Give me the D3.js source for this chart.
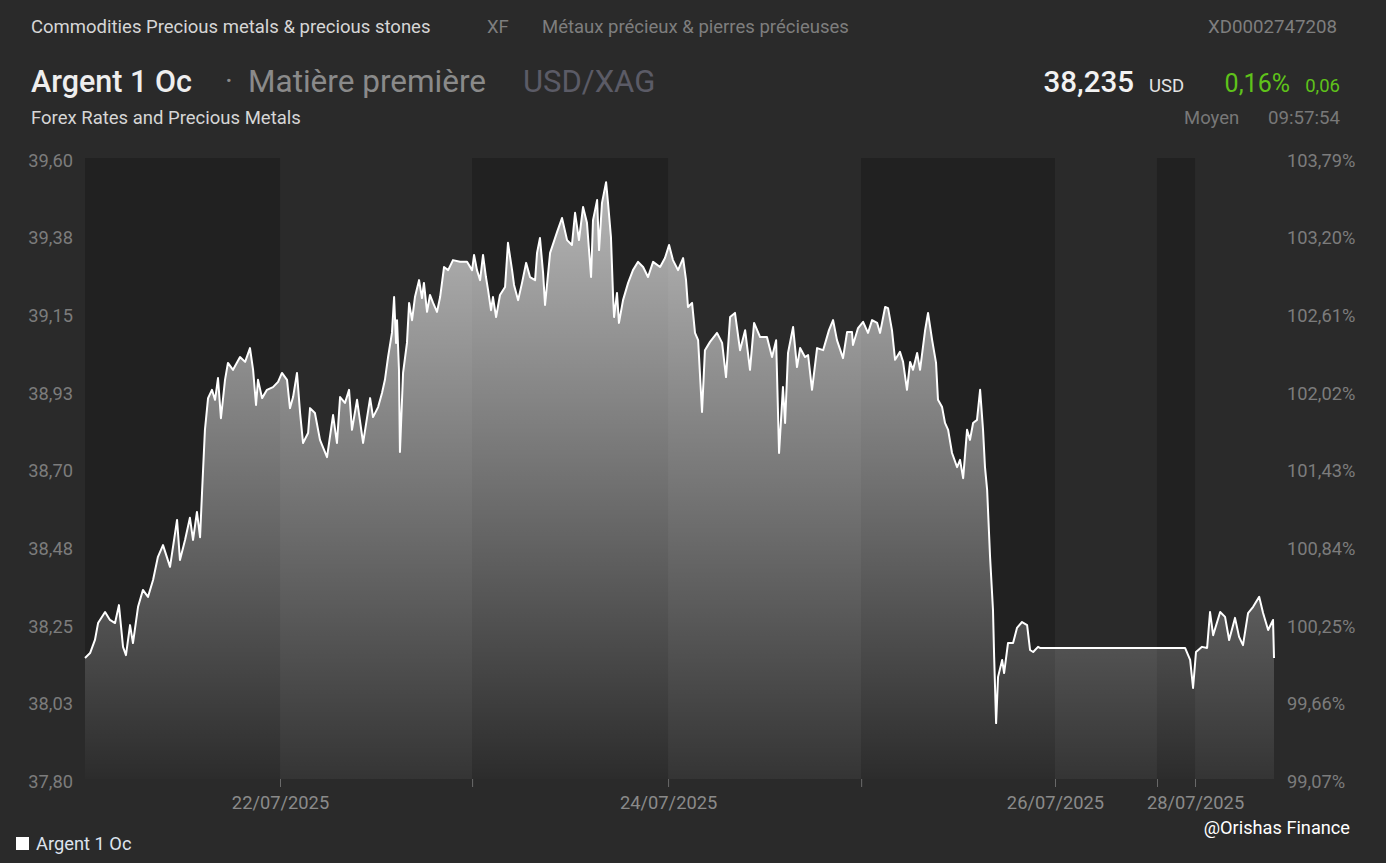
<!DOCTYPE html>
<html>
<head>
<meta charset="utf-8">
<script src="https://cdn.jsdelivr.net/npm/d3@7"></script>
<style>
  html, body { margin: 0; padding: 0; background: #2a2a2a; }
  svg { display: block; }
  text { font-family: Roboto, "Noto Sans", sans-serif; }
</style>
</head>
<body>
<svg id="chart" width="1386" height="863"></svg>
<script>
// ---------- DATA ----------
// time in trading-day units from 21/07/2025 open
const times = [
  0.000,0.026,0.051,0.067,0.103,0.128,0.154,0.174,0.195,0.210,0.231,0.246,0.272,0.297,0.323,0.349,0.374,0.400,0.436,0.472,
  0.487,0.513,0.538,0.554,0.574,0.590,0.600,0.615,0.631,0.651,0.667,0.682,0.697,0.718,0.733,0.759,0.795,0.821,0.846,0.862,
  0.877,0.887,0.908,0.933,0.964,0.990,1.010,1.036,1.051,1.067,1.087,1.103,1.118,1.144,1.154,1.179,1.205,1.241,
  1.272,1.292,1.308,1.333,1.354,1.369,1.395,1.426,1.462,1.477,1.503,1.523,1.538,1.554,1.574,1.585,1.595,1.600,1.610,1.615,
  1.631,1.651,1.662,1.677,1.692,1.713,1.728,1.738,1.754,1.769,1.785,1.805,1.821,1.841,1.862,1.887,1.923,1.959,1.985,1.995,
  2.010,2.026,2.041,2.056,2.067,2.082,2.092,2.108,2.128,2.154,2.169,2.190,2.200,2.221,2.241,2.262,2.282,2.308,2.318,2.333,
  2.349,2.359,2.385,2.421,2.446,2.472,2.497,2.513,2.533,
  2.554,2.574,2.595,2.605,2.626,2.636,2.651,2.672,2.682,2.697,2.708,2.713,2.728,2.738,2.759,2.785,2.810,2.836,2.862,2.887,
  2.913,2.949,2.974,2.995,3.015,3.041,3.067,3.082,3.092,3.113,3.128,3.144,3.164,3.179,3.205,3.241,3.267,3.287,3.308,3.333,
  3.359,3.385,3.410,3.431,3.462,3.497,3.523,3.544,3.559,3.579,3.590,3.605,3.631,3.651,3.667,3.692,3.708,3.728,3.754,3.785,3.815,
  3.836,3.856,3.887,3.908,3.933,3.938,3.964,3.990,4.015,4.036,4.062,4.077,4.103,4.118,4.138,4.154,4.179,4.195,4.215,4.231,
  4.246,4.267,4.282,4.308,4.323,4.344,4.364,4.374,4.395,4.410,4.426,4.446,4.472,4.487,4.503,4.523,4.538,4.554,4.574,4.590,
  4.605,4.615,4.626,4.641,4.656,4.662,4.672,4.682,4.703,4.713,4.733,4.759,4.779,
  4.805,4.831,4.846,4.862,4.887,4.897,5.641,5.667,5.682,5.697,5.728,5.754,5.769,5.785,5.821,5.846,5.867,5.897,5.918,5.938,
  5.964,5.990,6.021,6.041,6.067,6.092,6.097
];
const prices = [
  38.151,38.165,38.203,38.252,38.284,38.261,38.252,38.304,38.183,38.159,38.246,38.194,38.299,38.348,38.328,38.377,38.444,38.478,38.415,38.551,
  38.435,38.493,38.557,38.493,38.574,38.501,38.629,38.812,38.904,38.928,38.899,38.962,38.846,38.957,39.006,38.986,39.023,39.009,39.049,38.986,
  38.884,38.957,38.904,38.928,38.936,38.951,38.977,38.957,38.875,38.907,38.977,38.861,38.774,38.803,38.875,38.861,38.783,38.733,
  38.855,38.774,38.907,38.890,38.928,38.812,38.899,38.774,38.904,38.849,38.878,38.919,38.957,39.023,39.093,39.197,39.064,39.130,38.986,38.748,
  38.977,39.064,39.180,39.130,39.197,39.246,39.194,39.238,39.154,39.203,39.180,39.154,39.197,39.284,39.275,39.304,39.299,39.299,39.275,39.319,
  39.275,39.246,39.319,39.255,39.217,39.159,39.197,39.139,39.203,39.226,39.354,39.275,39.232,39.188,39.238,39.296,39.255,39.246,39.325,39.368,
  39.267,39.174,39.325,39.386,39.426,39.362,39.348,39.441,39.362,
  39.458,39.412,39.255,39.420,39.478,39.333,39.470,39.530,39.470,39.371,39.197,39.139,39.209,39.122,39.188,39.238,39.275,39.299,39.284,39.255,
  39.299,39.284,39.310,39.348,39.304,39.275,39.310,39.246,39.168,39.180,39.093,39.072,38.864,39.043,39.067,39.093,39.064,38.965,39.139,39.151,
  39.043,39.101,38.986,39.122,39.081,39.081,39.023,39.072,38.745,38.936,38.832,39.035,39.110,38.994,39.049,39.023,39.029,38.928,39.049,39.043,39.101,
  39.130,39.072,39.020,39.096,39.096,39.058,39.107,39.125,39.093,39.130,39.122,39.093,39.168,39.165,39.101,39.015,39.038,39.009,38.928,39.009,
  38.986,39.035,38.986,39.101,39.151,39.072,39.006,38.899,38.878,38.832,38.812,38.745,38.704,38.725,38.672,38.812,38.783,38.832,38.841,38.928,
  38.812,38.704,38.638,38.444,38.290,38.154,37.962,38.096,38.145,38.107,38.194,38.194,38.238,
  38.255,38.246,38.174,38.168,38.183,38.180,38.180,38.145,38.064,38.168,38.183,38.180,38.284,38.217,38.284,38.270,38.203,38.267,38.212,38.188,
  38.281,38.299,38.328,38.281,38.232,38.261,38.151
];
// session boundaries (trading-day units) and shaded sessions
const darkSessions = [[0, 1.0], [1.985, 2.99], [3.98, 4.974], [5.497, 5.692]];
const xTickValues = [1.0, 1.985, 2.99, 3.98, 4.974, 5.497, 5.692];
const xTickLabels = ["22/07/2025", "", "24/07/2025", "", "26/07/2025", "", "28/07/2025"];
const yTickValues = [37.8, 38.025, 38.25, 38.475, 38.7, 38.925, 39.15, 39.375, 39.6];
const yTickLabels = ["37,80", "38,03", "38,25", "38,48", "38,70", "38,93", "39,15", "39,38", "39,60"];
const pctTickLabels = ["99,07%", "99,66%", "100,25%", "100,84%", "101,43%", "102,02%", "102,61%", "103,20%", "103,79%"];
const seriesName = "Argent 1 Oc";

// ---------- LAYOUT ----------
const svg = d3.select("#chart");
const W = 1386, H = 863;
const plot = { left: 85, right: 1274, top: 158, bottom: 779 };
const AX = 18.3;

svg.append("rect").attr("width", W).attr("height", H).attr("fill", "#2a2a2a");

const x = d3.scaleLinear().domain([0, 6.097]).range([plot.left, plot.right]);
const y = d3.scaleLinear().domain([37.8, 39.6]).range([plot.bottom, plot.top]);

// session bands
svg.append("g").selectAll("rect").data(darkSessions).join("rect")
  .attr("x", d => x(d[0])).attr("width", d => x(d[1]) - x(d[0]))
  .attr("y", plot.top).attr("height", plot.bottom - plot.top)
  .attr("fill", "#212121");

// gradient
const defs = svg.append("defs");
const grad = defs.append("linearGradient").attr("id", "areaGrad")
  .attr("gradientUnits", "userSpaceOnUse")
  .attr("x1", 0).attr("x2", 0).attr("y1", plot.top).attr("y2", plot.bottom);
grad.append("stop").attr("offset", "0%").attr("stop-color", "#ffffff").attr("stop-opacity", 0.70);
grad.append("stop").attr("offset", "100%").attr("stop-color", "#ffffff").attr("stop-opacity", 0.05);

const data = times.map((t, i) => ({ t, v: prices[i] }));

const area = d3.area().x(d => x(d.t)).y0(plot.bottom).y1(d => y(d.v));
const line = d3.line().x(d => x(d.t)).y(d => y(d.v));

svg.append("path").datum(data).attr("d", area).attr("fill", "url(#areaGrad)");
svg.append("path").datum(data).attr("d", line)
  .attr("fill", "none").attr("stroke", "#ffffff").attr("stroke-width", 2)
  .attr("stroke-linejoin", "round");

// x axis
const xAxis = d3.axisBottom(x).tickValues(xTickValues)
  .tickFormat((d, i) => xTickLabels[i]).tickSize(8).tickPadding(9);
const gx = svg.append("g").attr("transform", `translate(0,${plot.bottom})`).call(xAxis);
gx.select(".domain").remove();
gx.selectAll(".tick line").attr("stroke", "#6a6a6a");
gx.selectAll(".tick text").attr("fill", "#8a8a8a").attr("font-size", AX)
  .attr("font-family", "Roboto, sans-serif");

// left y axis
const yAxisL = d3.axisLeft(y).tickValues(yTickValues)
  .tickFormat((d, i) => yTickLabels[i]).tickSize(0).tickPadding(12);
const gyl = svg.append("g").attr("transform", `translate(${plot.left},0)`).call(yAxisL);
gyl.select(".domain").remove();
gyl.selectAll(".tick text").attr("fill", "#7c7c7c").attr("font-size", AX)
  .attr("font-family", "Roboto, sans-serif").attr("dy", "0.45em");

// right y axis (percent)
const yAxisR = d3.axisRight(y).tickValues(yTickValues)
  .tickFormat((d, i) => pctTickLabels[i]).tickSize(0).tickPadding(13);
const gyr = svg.append("g").attr("transform", `translate(${plot.right},0)`).call(yAxisR);
gyr.select(".domain").remove();
gyr.selectAll(".tick text").attr("fill", "#7c7c7c").attr("font-size", AX)
  .attr("font-family", "Roboto, sans-serif").attr("dy", "0.45em");

// ---------- HEADER ----------
function txt(s, xx, yy, size, color, opts = {}) {
  const t = svg.append("text").attr("x", xx).attr("y", yy).text(s)
    .attr("font-size", size).attr("fill", color);
  if (opts.weight) t.attr("font-weight", opts.weight);
  if (opts.anchor) t.attr("text-anchor", opts.anchor);
  if (opts.family) t.attr("font-family", opts.family);
  return t;
}
txt("Commodities Precious metals & precious stones", 31, 33, 18.5, "#d6d6d6");
txt("XF", 487, 33, 18.5, "#7e7e7e");
txt("Métaux précieux & pierres précieuses", 542, 33, 18.5, "#7e7e7e");
txt("XD0002747208", 1337, 33, 18.7, "#7e7e7e", { anchor: "end" });

txt(seriesName, 31, 92, 30.5, "#eeeeee", { weight: 500 });
txt("·", 225, 91, 30, "#8a8a8a");
txt("Matière première", 248, 92, 31.5, "#8a8a8a");
txt("USD/XAG", 523, 92, 31, "#5b5b66");
txt("Forex Rates and Precious Metals", 31, 124, 18.5, "#d6d6d6");

txt("38,235", 1134, 92, 29.5, "#f2f2f2", { weight: 500, anchor: "end" });
txt("USD", 1149, 92, 18.5, "#e4e4e4");
txt("0,16%", 1290, 92, 25, "#5fc21a", { anchor: "end" });
txt("0,06", 1340, 92, 18.5, "#5fc21a", { anchor: "end" });
txt("Moyen", 1184, 124, 18.5, "#787878");
txt("09:57:54", 1340, 124, 18.7, "#787878", { anchor: "end" });

// ---------- LEGEND ----------
svg.append("rect").attr("x", 16).attr("y", 837).attr("width", 13).attr("height", 13).attr("fill", "#ffffff");
txt(seriesName, 36, 850, 18.3, "#dde3ee");

// watermark
txt("@Orishas Finance", 1350, 834, 18.2, "#ffffff", { anchor: "end", family: "'Open Sans', sans-serif" });
</script>
</body>
</html>
